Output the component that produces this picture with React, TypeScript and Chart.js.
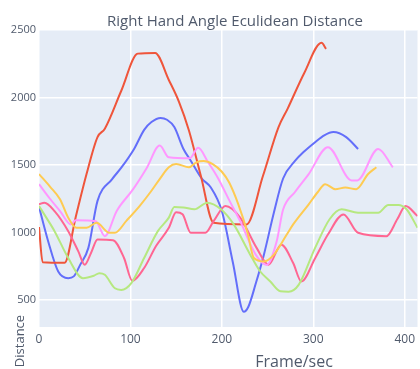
import React, { useEffect, useRef } from "react";
import { Chart, registerables } from "chart.js";

Chart.register(...registerables);

const chartTitle = "Right Hand Angle Eculidean Distance";
const xTitle = "Frame/sec";
const yTitle = "Distance";
const xTickValues = [0, 100, 200, 300, 400];
const yTickValues = [500, 1000, 1500, 2000, 2500];

const blueFrames = [0, 10, 21, 32, 38, 45, 54, 64, 80, 90, 104, 115, 123, 133, 140, 148, 158, 166, 178, 188, 200, 212, 224, 229, 237, 246, 257, 267, 280, 290, 302, 312, 322, 336, 349];
const blueValues = [1190, 935, 711, 662, 675, 760, 886, 1234, 1396, 1480, 1619, 1760, 1818, 1848, 1835, 1781, 1619, 1532, 1400, 1333, 1159, 780, 413, 450, 620, 836, 1150, 1400, 1530, 1600, 1669, 1720, 1744, 1707, 1619];

const redFrames = [0, 4, 28, 40, 52, 64, 72, 90, 108, 127, 142, 153, 164, 177, 191, 227, 245, 262, 272, 290, 309, 314];
const redValues = [1040, 780, 776, 1110, 1433, 1707, 1769, 2050, 2325, 2330, 2130, 1970, 1756, 1420, 1072, 1060, 1420, 1781, 1918, 2180, 2405, 2360];

const pinkFrames = [0, 6, 17, 32, 43, 50, 57, 64, 81, 93, 102, 115, 128, 142, 150, 157, 166, 182, 191, 204, 220, 238, 251, 265, 278, 287, 302, 316, 333, 349, 380, 392, 401, 414];
const pinkValues = [1209, 1221, 1159, 1010, 860, 761, 850, 948, 943, 811, 642, 737, 900, 1035, 1150, 1135, 998, 998, 1084, 1196, 1110, 886, 761, 910, 774, 637, 810, 985, 1134, 998, 973, 1100, 1196, 1122];

const greenFrames = [0, 8, 17, 32, 48, 60, 66, 72, 83, 90, 101, 115, 130, 142, 148, 158, 170, 184, 199, 213, 231, 242, 253, 264, 273, 284, 302, 318, 331, 349, 371, 382, 393, 402, 414];
const greenValues = [1196, 1110, 1010, 811, 662, 680, 699, 687, 587, 575, 625, 811, 1010, 1110, 1189, 1185, 1172, 1221, 1172, 1060, 836, 711, 637, 565, 562, 612, 886, 1100, 1172, 1147, 1147, 1204, 1204, 1172, 1035];

const lightPinkFrames = [0, 12, 23, 35, 40, 62, 72, 85, 103, 118, 132, 142, 165, 174, 185, 196, 208, 220, 237, 249, 260, 267, 280, 295, 316, 342, 348, 371, 387];
const lightPinkValues = [1358, 1250, 1159, 1060, 1090, 1084, 973, 1160, 1321, 1480, 1644, 1557, 1550, 1627, 1520, 1400, 1240, 1084, 836, 760, 935, 1170, 1300, 1433, 1632, 1385, 1385, 1619, 1483];

const yellowFrames = [0, 12, 23, 32, 41, 52, 63, 77, 83, 96, 110, 122, 132, 142, 150, 164, 172, 180, 190, 200, 208, 218, 228, 235, 246, 257, 271, 278, 295, 305, 313, 324, 335, 347, 360, 369];
const yellowValues = [1433, 1340, 1246, 1109, 1035, 1035, 1072, 998, 998, 1090, 1196, 1300, 1396, 1483, 1507, 1483, 1520, 1530, 1507, 1450, 1370, 1209, 1000, 811, 786, 836, 985, 1060, 1209, 1300, 1358, 1321, 1333, 1321, 1433, 1483];

const seriesList = [
  { frames: yellowFrames, values: yellowValues, color: "#FECB52" },
  { frames: lightPinkFrames, values: lightPinkValues, color: "#FF97FF" },
  { frames: greenFrames, values: greenValues, color: "#B6E880" },
  { frames: pinkFrames, values: pinkValues, color: "#FF6692" },
  { frames: redFrames, values: redValues, color: "#EF553B" },
  { frames: blueFrames, values: blueValues, color: "#636EFA" },
];

const FONT = "'Open Sans', 'DejaVu Sans', sans-serif";
const TEXT_COLOR = "#505a6c";

const decorPlugin = {
  id: "decor",
  beforeDraw(chart: any) {
    const { ctx, chartArea } = chart;
    ctx.save();
    ctx.fillStyle = "#E5ECF6";
    ctx.fillRect(chartArea.left, chartArea.top, chartArea.right - chartArea.left, chartArea.bottom - chartArea.top);
    ctx.restore();
  },
  afterDraw(chart: any) {
    const { ctx, chartArea } = chart;
    ctx.save();
    ctx.fillStyle = TEXT_COLOR;
    ctx.textAlign = "center";
    ctx.textBaseline = "alphabetic";
    ctx.font = `15px ${FONT}`;
    ctx.fillText(chartTitle, 235, chartArea.top - 4);
    ctx.font = `16px ${FONT}`;
    ctx.fillText(xTitle, 294, chartArea.bottom + 40);
    ctx.translate(chartArea.left - 15, chartArea.bottom + 14);
    ctx.rotate(-Math.PI / 2);
    ctx.font = `13px ${FONT}`;
    ctx.fillText(yTitle, 0, 0);
    ctx.restore();
  },
};

export default function App() {
  const ref = useRef<HTMLCanvasElement>(null);
  useEffect(() => {
    if (!ref.current) return;
    const chart = new Chart(ref.current, {
      type: "line",
      data: {
        datasets: seriesList.map((s) => ({
          data: s.frames.map((f, i) => ({ x: f, y: s.values[i] })),
          borderColor: s.color,
          backgroundColor: s.color,
          borderWidth: 2,
          pointRadius: 0,
          cubicInterpolationMode: "monotone" as const,
          fill: false,
        })),
      },
      options: {
        animation: false,
        responsive: false,
        layout: { padding: { top: 30, left: 0, right: 0, bottom: 0 } },
        plugins: { legend: { display: false }, tooltip: { enabled: false }, title: { display: false } },
        scales: {
          x: {
            type: "linear",
            min: 0,
            max: 414,
            afterBuildTicks: (scale: any) => {
              scale.ticks = xTickValues.map((v) => ({ value: v }));
            },
            afterFit: (scale: any) => {
              scale.height = 42;
            },
            grid: { color: "#ffffff", lineWidth: 1.5, drawTicks: false },
            border: { display: false },
            ticks: { color: TEXT_COLOR, font: { family: FONT, size: 12 }, padding: 5, maxRotation: 0, callback: (v: any) => String(v) },
          },
          y: {
            type: "linear",
            min: 300,
            max: 2500,
            afterBuildTicks: (scale: any) => {
              scale.ticks = yTickValues.map((v) => ({ value: v }));
            },
            afterFit: (scale: any) => {
              scale.width = 39;
            },
            grid: { color: "#ffffff", lineWidth: 1.5, drawTicks: false },
            border: { display: false },
            ticks: { color: TEXT_COLOR, font: { family: FONT, size: 11 }, padding: 3, callback: (v: any) => String(v) },
          },
        },
      },
      plugins: [decorPlugin],
    });
    return () => chart.destroy();
  }, []);
  return (
    <div style={{ position: "fixed", left: 0, top: 0, width: 420, height: 369, background: "#ffffff" }}>
      <canvas ref={ref} width={420} height={369} style={{ display: "block" }} />
    </div>
  );
}
